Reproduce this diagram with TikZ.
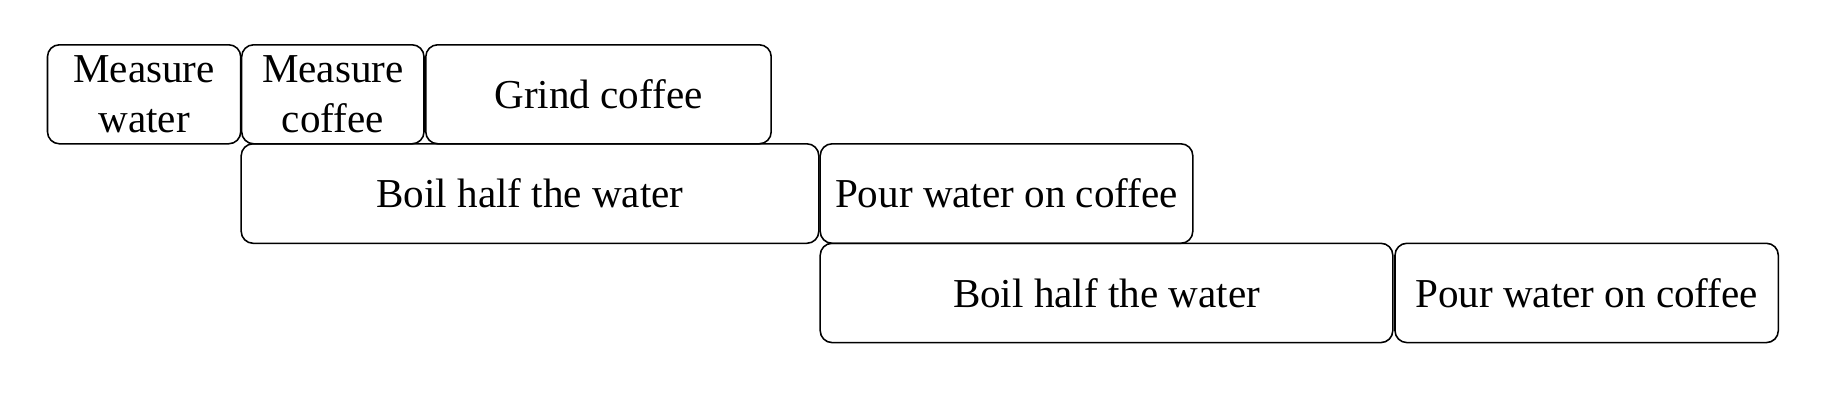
\documentclass[tikz,border=0pt]{standalone}
\usepackage{fontspec}
\setmainfont{Liberation Serif}
\tikzset{
  taskbox/.style={draw=black, line width=0.38pt, rounded corners=2.9pt, inner sep=0pt,
    align=center, font=\fontsize{10}{12}\selectfont}
}
\newcommand\mytask[6]{%
  \node[taskbox, minimum width={(#4-#2)*0.24331pt}, minimum height={(#5-#3)*0.24331pt}]
    (#1) at ({(#2+#4)/2},{(#3+#5)/2}) {#6};}
\begin{document}
\begin{tikzpicture}[x=0.24331pt, y=-0.24331pt]
  \useasboundingbox[fill=white] (0,0) rectangle (1844,404);
  \mytask{mw}{47.5}{44.8}{240.7}{143.8}{Measure\\water}
  \mytask{mc}{241.7}{44.8}{424.0}{143.8}{Measure\\coffee}
  \mytask{gc}{425.8}{44.8}{771.2}{143.8}{Grind coffee}
  \mytask{ba}{241.2}{143.8}{818.8}{243.3}{Boil half the water}
  \mytask{pa}{820.2}{143.8}{1192.8}{243.3}{Pour water on coffee}
  \mytask{bb}{820.2}{243.3}{1392.8}{342.6}{Boil half the water}
  \mytask{pb}{1395.0}{243.3}{1778.3}{342.6}{Pour water on coffee}
\end{tikzpicture}
\end{document}
